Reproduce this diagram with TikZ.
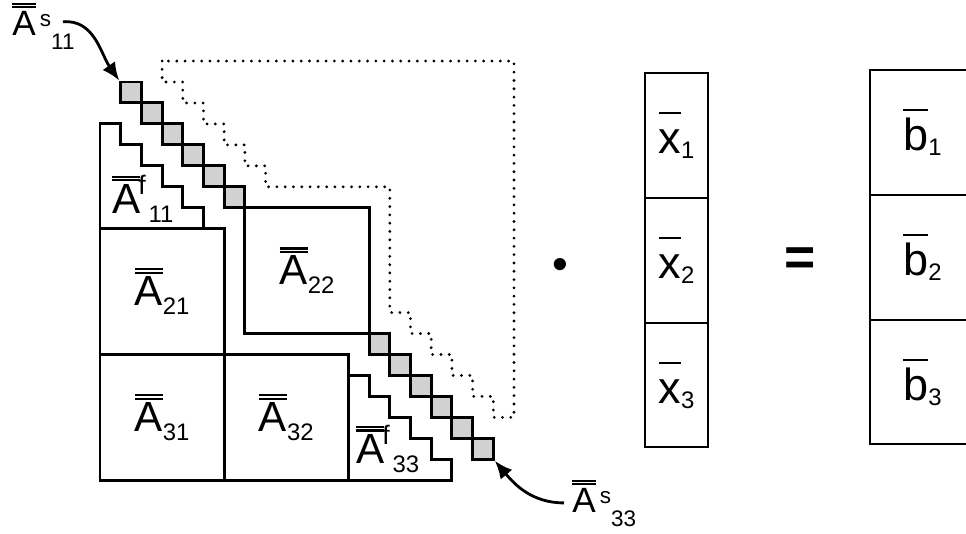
\documentclass[tikz,border=0pt]{standalone}
\usepackage{fontspec}
\setmainfont{Liberation Sans}
\usetikzlibrary{arrows.meta, positioning}

% overlined letters
\newcommand{\dbl}[1]{\vbox{\hrule height 1.5pt\kern 1.1pt\hrule height 1.5pt\kern 1.8pt\hbox{#1}}}
\newcommand{\sgl}[1]{\vbox{\hrule height 1.5pt\kern 5pt\hbox{\vphantom{b}#1}}}
\newcommand{\bigfont}{\fontsize{30}{36}\selectfont}
\newcommand{\vecfont}{\fontsize{32}{38}\selectfont}
\newcommand{\subfont}{\fontsize{17}{20}\selectfont}
% block labels
\newcommand{\blocklab}[1]{{\bigfont\dbl{A}}{\subfont\raisebox{-6.5pt}{#1}}}
\newcommand{\filllab}[1]{{\bigfont\dbl{A}}\kern-1.5pt{\fontsize{19}{22}\selectfont\raisebox{13pt}{f}}\kern2pt{\subfont\raisebox{-7pt}{#1}}}
\newcommand{\seplab}[1]{{\fontsize{25}{30}\selectfont\dbl{A}}\kern3pt{\fontsize{16}{18}\selectfont\raisebox{6pt}{s}\raisebox{-10pt}{#1}}}
\newcommand{\veclab}[2]{{\vecfont\sgl{#1}}{\subfont\raisebox{-3.5pt}{#2}}}

\begin{document}
\begin{tikzpicture}[
    line/.style={line width=2.1pt},
    cell/.style={draw, line width=2.1pt, fill=black!18, minimum width=5.175mm, minimum height=5.24mm, inner sep=0pt},
    block/.style={draw, line width=2.1pt, minimum width=31.05mm, minimum height=31.44mm, inner sep=0pt},
    vecbox/.style={draw, line width=1.5pt, minimum width=15.75mm, minimum height=31.2mm, inner sep=0pt, outer sep=0pt},
    zero/.style={line width=2.2pt, dash pattern=on 0pt off 5.9pt, line cap=round},
    pointer/.style={line width=2pt, -{Latex[length=4.5mm, width=3.8mm]}}
]
    \useasboundingbox (0,0) rectangle (24.15,-13.325);
    \clip (0,0) rectangle (24.15,-13.325);

    % Matrix, one unit per row/column
    \begin{scope}[shift={(3.0175,-2.05)}, x=0.5175cm, y=-0.524cm]
        % Upper part (dotted)
        \draw [zero] (2,-1) -- (2,0) -- (3,0) -- (3,1) -- (4,1) -- (4,2) -- (5,2) -- (5,3) -- (6,3) -- (6,4)
            -- (7,4) -- (7,5) -- (13,5) -- (13,11) -- (14,11) -- (14,12) -- (15,12) -- (15,13) -- (16,13)
            -- (16,14) -- (17,14) -- (17,15) -- (18,15) -- (18,16) -- (19,16) -- (19,-1) -- cycle;

        % Lower parts of the separable blocks
        \draw [line] (-1,2) -- (0,2) -- (0,3) -- (1,3) -- (1,4) -- (2,4) -- (2,5) -- (3,5) -- (3,6)
            -- (4,6) -- (4,7) -- (-1,7) -- cycle;
        \draw [line] (11,14) -- (12,14) -- (12,15) -- (13,15) -- (13,16) -- (14,16) -- (14,17) -- (15,17)
            -- (15,18) -- (16,18) -- (16,19) -- (11,19);

        % Blocks
        \node (a22) [block] at (9,9) {\blocklab{22}};
        \node (a21) [block] at (2,10) {\blocklab{21}};
        \node (a31) [block] at (2,16) {\blocklab{31}};
        \node (a32) [block] at (8,16) {\blocklab{32}};
        \node (a11f) [anchor=base west, inner sep=0pt] at (-0.42,6.25) {\filllab{11}};
        \node (a33f) [anchor=base west, inner sep=0pt] at (11.37,18.18) {\filllab{33}};

        % Diagonal cells
        \foreach \k in {0,...,5} {
            \node (s1-\k) [cell] at (\k+0.5,\k+0.5) {};
            \node (s3-\k) [cell] at (\k+12.5,\k+12.5) {};
        }
    \end{scope}

    % Pointers to the diagonal cells
    \node (a11s) [anchor=base west, inner sep=0pt] at (0.3,-0.875) {\seplab{11}};
    \node (a33s) [anchor=base west, inner sep=0pt] at (14.3,-12.8) {\seplab{33}};
    \draw [pointer] ([xshift=-3mm,yshift=1mm]a11s.east) to[out=5, in=125] (s1-0.north west);
    \draw [pointer] ([xshift=-2mm]a33s.west) to[out=180, in=-50] (s3-5.south east);

    % Product sign
    \node (dot) [font=\fontsize{32}{36}\selectfont] at (14.0,-6.72) {•};

    % Unknowns
    \node (x1) [vecbox] at (16.91,-3.385) {\veclab{x}{1}};
    \node (x2) [vecbox, below=0pt of x1] {\veclab{x}{2}};
    \node (x3) [vecbox, below=0pt of x2] {\veclab{x}{3}};

    % Equals sign
    \node (eq) [font=\fontsize{38}{40}\selectfont\bfseries] at (20.0,-6.55) {=};

    % Right-hand side
    \node (b1) [vecbox, minimum width=26.25mm] at (23.06,-3.31) {\veclab{b}{1}};
    \node (b2) [vecbox, minimum width=26.25mm, below=0pt of b1] {\veclab{b}{2}};
    \node (b3) [vecbox, minimum width=26.25mm, below=0pt of b2] {\veclab{b}{3}};
\end{tikzpicture}
\end{document}
